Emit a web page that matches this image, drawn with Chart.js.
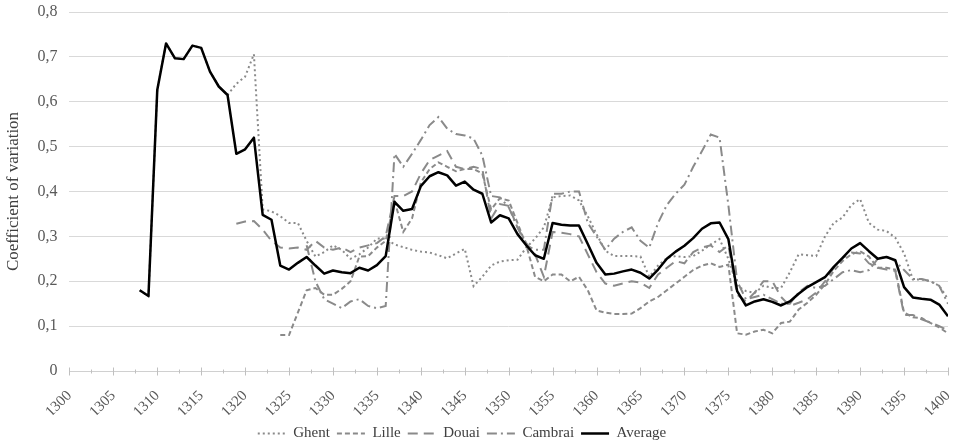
<!DOCTYPE html>
<html>
<head>
<meta charset="utf-8">
<script src="https://cdn.jsdelivr.net/npm/chart.js@4/dist/chart.umd.min.js"></script>
<style>
    html, body { margin: 0; padding: 0; background: #ffffff; }
    #wrap { width: 961px; height: 447px; }
</style>
</head>
<body>
<div id="wrap"><canvas id="cv"></canvas></div>
<script>
// Years on the x axis
const firstYear = 1300;
const lastYear = 1400;

// Coefficient of variation per town, each series starts at its own first year
const ghentStart = 1308;
const ghent = [
    0.18, 0.167,
    0.626, 0.73, 0.697, 0.695, 0.725, 0.72, 0.667, 0.634, 0.615, 0.64,
    0.656, 0.706, 0.36, 0.356, 0.345, 0.33, 0.33, 0.29, 0.255, 0.265,
    0.28, 0.27, 0.25, 0.26, 0.275, 0.295, 0.295, 0.282, 0.276, 0.27,
    0.266, 0.264, 0.258, 0.251, 0.262, 0.272, 0.189, 0.21, 0.235, 0.244,
    0.247, 0.248, 0.275, 0.295, 0.32, 0.387, 0.39, 0.391, 0.38, 0.345,
    0.305, 0.268, 0.256, 0.256, 0.256, 0.255, 0.21, 0.235, 0.252, 0.256,
    0.254, 0.256, 0.268, 0.282, 0.294, 0.25, 0.19, 0.178, 0.174, 0.19,
    0.185, 0.185, 0.22, 0.26, 0.258, 0.256, 0.3, 0.33, 0.342, 0.37,
    0.383, 0.33, 0.315, 0.312, 0.297, 0.262, 0.204, 0.204, 0.2, 0.19,
    0.16,
];

const lilleStart = 1324;
const lille = [
    0.08, 0.08, 0.13, 0.18, 0.185, 0.17,
    0.17, 0.183, 0.2, 0.255, 0.256, 0.275, 0.29, 0.38, 0.31, 0.34,
    0.42, 0.45, 0.465, 0.455, 0.445, 0.45, 0.45, 0.44, 0.36, 0.385,
    0.38, 0.33, 0.28, 0.21, 0.2, 0.215, 0.215, 0.2, 0.21, 0.18,
    0.135, 0.13, 0.127, 0.127, 0.128, 0.14, 0.155, 0.165, 0.18, 0.195,
    0.21, 0.225, 0.235, 0.24, 0.232, 0.237, 0.084, 0.081, 0.088, 0.092,
    0.084, 0.107, 0.11, 0.137, 0.152, 0.17, 0.193, 0.223, 0.245, 0.26,
    0.267, 0.255, 0.23, 0.23, 0.226, 0.13, 0.12, 0.118, 0.107, 0.097,
    0.084,
];

const douaiStart = 1319;
const douai = [
    0.328,
    0.333, 0.334, 0.315, 0.29, 0.275, 0.273, 0.275, 0.27, 0.29, 0.275,
    0.27, 0.275, 0.265, 0.275, 0.28, 0.285, 0.3, 0.39, 0.39, 0.4,
    0.44, 0.47, 0.48, 0.49, 0.455, 0.45, 0.455, 0.45, 0.34, 0.372,
    0.368, 0.32, 0.285, 0.26, 0.21, 0.31, 0.308, 0.305, 0.3, 0.26,
    0.22, 0.195, 0.19, 0.195, 0.2, 0.197, 0.185, 0.215, 0.23, 0.245,
    0.24, 0.265, 0.275, 0.28, 0.265, 0.28, 0.17, 0.155, 0.175, 0.2,
    0.2, 0.165, 0.145, 0.152, 0.16, 0.175, 0.2, 0.23, 0.252, 0.264,
    0.262, 0.24, 0.23, 0.226, 0.223, 0.125, 0.125, 0.115, 0.108, 0.1,
    0.09,
];

const cambraiStart = 1327;
const cambrai = [
    0.28, 0.2, 0.16,
    0.15, 0.14, 0.155, 0.16, 0.145, 0.14, 0.145, 0.484, 0.455, 0.484,
    0.515, 0.548, 0.566, 0.54, 0.528, 0.525, 0.518, 0.48, 0.39, 0.387,
    0.365, 0.32, 0.28, 0.27, 0.27, 0.395, 0.395, 0.4, 0.4, 0.33,
    0.3, 0.27, 0.295, 0.31, 0.32, 0.29, 0.275, 0.33, 0.37, 0.395,
    0.415, 0.455, 0.49, 0.527, 0.52, 0.37, 0.2, 0.16, 0.165, 0.17,
    0.16, 0.15, 0.15, 0.175, 0.19, 0.185, 0.19, 0.205, 0.22, 0.225,
    0.22, 0.225, 0.25, 0.255, 0.245, 0.225, 0.205, 0.205, 0.2, 0.19,
    0.15,
];

const averageStart = 1308;
const average = [
    0.18, 0.167,
    0.626, 0.73, 0.697, 0.695, 0.725, 0.72, 0.667, 0.634, 0.615, 0.484,
    0.494, 0.52, 0.348, 0.337, 0.235, 0.226, 0.241, 0.254, 0.235, 0.217,
    0.224, 0.22, 0.218, 0.23, 0.224, 0.236, 0.256, 0.377, 0.357, 0.361,
    0.412, 0.434, 0.443, 0.436, 0.413, 0.422, 0.404, 0.395, 0.331, 0.347,
    0.34, 0.305, 0.28, 0.258, 0.25, 0.33, 0.326, 0.324, 0.324, 0.283,
    0.241, 0.215, 0.217, 0.222, 0.226, 0.219, 0.206, 0.226, 0.25, 0.266,
    0.279, 0.296, 0.317, 0.329, 0.331, 0.294, 0.178, 0.146, 0.155, 0.16,
    0.154, 0.146, 0.155, 0.172, 0.187, 0.198, 0.209, 0.232, 0.252, 0.273,
    0.285, 0.267, 0.25, 0.254, 0.247, 0.187, 0.164, 0.161, 0.159, 0.148,
    0.122,
];

const FONT = "'Liberation Serif', 'DejaVu Serif', serif";
const GREY = '#8a8a8a';

const toPoints = (start, values) => values.map((v, i) => ({ x: start + i, y: v }));

const lineSet = (label, start, values, dash, extra = {}) => ({
    label,
    data: toPoints(start, values),
    borderColor: GREY,
    backgroundColor: GREY,
    borderWidth: 2,
    borderDash: dash,
    borderCapStyle: 'butt',
    pointRadius: 0,
    pointStyle: 'line',
    tension: 0,
    order: 1,
    ...extra,
});

// small and big ticks across the x axis line, every 2.5 years
const axisTicks = {
    id: 'axisTicks',
    beforeDatasetsDraw(chart) {
        const { ctx } = chart;
        const xs = chart.scales.x;
        const y0 = Math.round(chart.scales.y.getPixelForValue(0)) + 0.5;
        ctx.save();
        ctx.strokeStyle = '#c0c0c0';
        ctx.lineWidth = 1;
        ctx.beginPath();
        for (let v = firstYear; v <= lastYear; v += 2.5) {
            const px = Math.round(xs.getPixelForValue(v)) + 0.5;
            const h = v % 5 === 0 ? 4 : 2;
            ctx.moveTo(px, y0 - h);
            ctx.lineTo(px, y0 + h);
        }
        ctx.stroke();
        ctx.restore();
    },
};

// the legend sits a little left of the middle and lower in the original
const legendShift = {
    id: 'legendShift',
    afterLayout(chart) {
        chart.legend.left -= 20;
        chart.legend.right -= 20;
        chart.legend.top += 4;
        chart.legend.bottom += 4;
    },
};

new Chart(document.getElementById('cv'), {
    type: 'line',
    data: {
        datasets: [
            lineSet('Ghent', ghentStart, ghent, [2, 3]),
            lineSet('Lille', lilleStart, lille, [5, 3]),
            lineSet('Douai', douaiStart, douai, [10, 6]),
            lineSet('Cambrai', cambraiStart, cambrai, [10, 4, 2, 4]),
            lineSet('Average', averageStart, average, [], {
                borderColor: '#000000',
                backgroundColor: '#000000',
                borderWidth: 2.5,
                borderJoinStyle: 'round',
                order: 0,
            }),
        ],
    },
    options: {
        responsive: true,
        maintainAspectRatio: false,
        animation: false,
        layout: {
            padding: { top: 0, right: 0, left: 3, bottom: 0 },
        },
        scales: {
            x: {
                type: 'linear',
                min: firstYear,
                max: lastYear,
                grid: { display: false },
                border: { color: '#d0d0d0' },
                afterFit(scale) {
                    scale.height = 44;
                    scale.paddingRight = 13;
                },
                ticks: {
                    stepSize: 5,
                    minRotation: 45,
                    maxRotation: 45,
                    padding: 8,
                    color: '#595959',
                    font: { family: FONT, size: 15 },
                    callback: (v) => String(v),
                },
            },
            y: {
                min: 0,
                max: 0.8,
                grid: { color: '#d9d9d9', drawTicks: false },
                border: { display: false },
                afterFit(scale) {
                    scale.paddingTop = 12;
                },
                ticks: {
                    stepSize: 0.1,
                    padding: 12,
                    color: '#595959',
                    font: { family: FONT, size: 16 },
                    callback: (v) => (v === 0 ? '0' : v.toFixed(1).replace('.', ',')),
                },
                title: {
                    display: true,
                    text: 'Coefficient of variation',
                    color: '#404040',
                    font: { family: FONT, size: 17 },
                    padding: { top: 0, bottom: 2 },
                },
            },
        },
        plugins: {
            legend: {
                position: 'bottom',
                labels: {
                    usePointStyle: true,
                    pointStyle: 'line',
                    pointStyleWidth: 28,
                    boxHeight: 10,
                    padding: 7,
                    color: '#404040',
                    font: { family: FONT, size: 15 },
                    sort: (a, b) => a.datasetIndex - b.datasetIndex,
                    // legend samples take the dash of their own line
                    generateLabels(chart) {
                        const items = Chart.defaults.plugins.legend.labels.generateLabels(chart);
                        items.forEach((item) => {
                            const ds = chart.data.datasets[item.datasetIndex];
                            item.lineDash = ds.borderDash;
                            item.lineWidth = ds.borderWidth;
                            item.strokeStyle = ds.borderColor;
                            item.pointStyle = 'line';
                        });
                        return items;
                    },
                },
            },
            tooltip: { enabled: false },
        },
    },
    plugins: [axisTicks, legendShift],
});
</script>
</body>
</html>
